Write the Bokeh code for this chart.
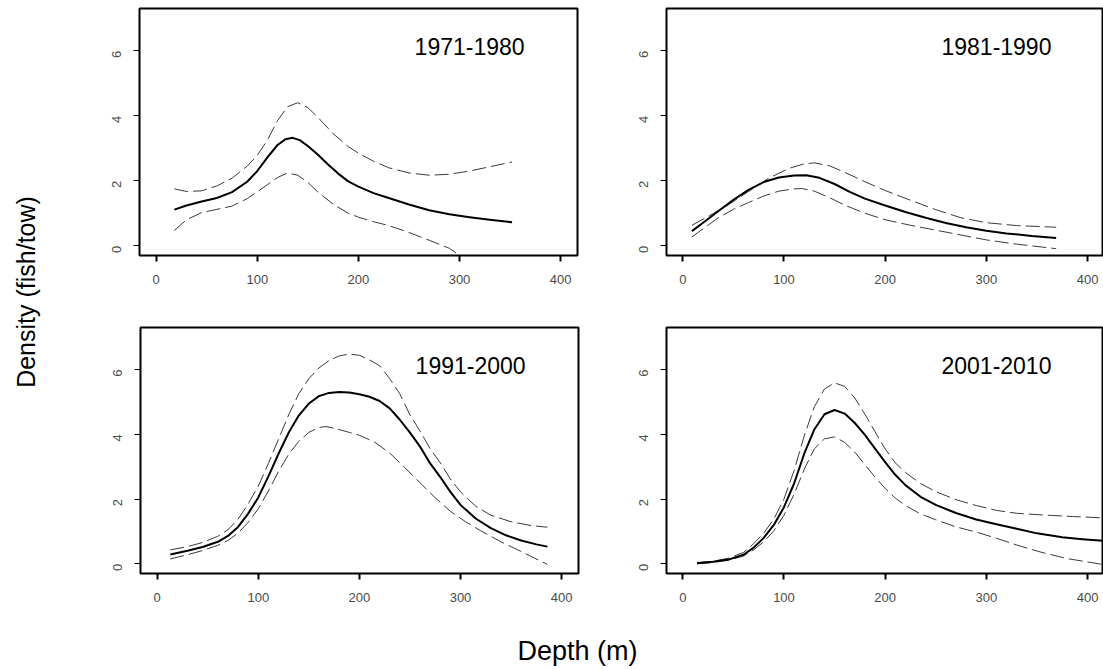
import math
from bokeh.plotting import figure
from bokeh.layouts import row, column
from bokeh.models import Range1d, Label, FixedTicker
from bokeh.embed import file_html
from bokeh.resources import INLINE

FONT = "Liberation Sans"

# ---------------- data (depth in m, density in fish/tow) ----------------
p1_label = "1971-1980"
p1_x_fit = [18, 30, 45, 60, 75, 90, 100, 110, 120, 128, 135, 142, 150, 160, 170, 180, 190, 200, 215, 230, 250, 270, 290, 310, 330, 352]
p1_fit = [1.11, 1.24, 1.36, 1.47, 1.65, 1.97, 2.30, 2.72, 3.10, 3.28, 3.32, 3.25, 3.07, 2.80, 2.50, 2.22, 1.98, 1.82, 1.62, 1.47, 1.27, 1.09, 0.97, 0.88, 0.80, 0.72]
p1_x_up = [18, 30, 45, 60, 75, 90, 100, 110, 120, 130, 140, 150, 160, 175, 190, 200, 215, 230, 250, 270, 290, 310, 330, 352]
p1_up = [1.75, 1.67, 1.69, 1.84, 2.08, 2.45, 2.78, 3.25, 3.85, 4.28, 4.40, 4.25, 3.95, 3.45, 3.05, 2.85, 2.60, 2.40, 2.24, 2.17, 2.20, 2.30, 2.43, 2.58]
p1_x_lo = [18, 30, 45, 60, 75, 90, 100, 110, 120, 130, 140, 150, 160, 175, 190, 200, 215, 230, 250, 270, 290, 300]
p1_lo = [0.47, 0.80, 1.02, 1.12, 1.22, 1.45, 1.66, 1.88, 2.10, 2.24, 2.17, 1.95, 1.65, 1.28, 1.00, 0.88, 0.74, 0.62, 0.41, 0.17, -0.08, -0.30]

p2_label = "1981-1990"
p2_x_fit = [9, 20, 35, 50, 65, 80, 95, 110, 122, 135, 150, 165, 180, 200, 220, 240, 260, 280, 300, 320, 345, 369]
p2_fit = [0.45, 0.71, 1.06, 1.41, 1.72, 1.96, 2.10, 2.16, 2.17, 2.09, 1.90, 1.66, 1.45, 1.24, 1.04, 0.86, 0.70, 0.57, 0.46, 0.38, 0.30, 0.24]
p2_x_up = [9, 25, 45, 65, 85, 105, 120, 130, 145, 160, 180, 200, 225, 250, 275, 300, 330, 369]
p2_up = [0.63, 0.90, 1.26, 1.67, 2.08, 2.38, 2.52, 2.55, 2.46, 2.26, 1.97, 1.70, 1.40, 1.11, 0.86, 0.71, 0.62, 0.57]
p2_x_lo = [9, 20, 35, 50, 65, 80, 95, 110, 118, 130, 145, 160, 180, 200, 225, 250, 275, 300, 330, 369]
p2_lo = [0.27, 0.52, 0.86, 1.12, 1.33, 1.53, 1.68, 1.75, 1.76, 1.68, 1.48, 1.25, 1.00, 0.80, 0.63, 0.48, 0.33, 0.18, 0.05, -0.09]

p3_label = "1991-2000"
p3_x_fit = [13, 30, 45, 60, 70, 80, 90, 100, 110, 120, 130, 140, 150, 160, 170, 180, 190, 200, 210, 220, 230, 240, 250, 260, 270, 280, 290, 300, 315, 330, 345, 360, 375, 386]
p3_fit = [0.29, 0.40, 0.52, 0.68, 0.86, 1.14, 1.55, 2.05, 2.70, 3.40, 4.05, 4.58, 4.95, 5.18, 5.28, 5.31, 5.29, 5.24, 5.16, 5.03, 4.80, 4.45, 4.05, 3.62, 3.10, 2.68, 2.22, 1.82, 1.40, 1.10, 0.88, 0.72, 0.60, 0.53]
p3_x_up = [13, 30, 45, 60, 70, 80, 90, 100, 110, 120, 130, 140, 150, 160, 170, 180, 190, 200, 210, 220, 230, 240, 250, 260, 270, 280, 290, 300, 315, 330, 350, 370, 386]
p3_up = [0.43, 0.53, 0.66, 0.85, 1.05, 1.38, 1.85, 2.40, 3.10, 3.85, 4.60, 5.25, 5.72, 6.05, 6.28, 6.42, 6.48, 6.44, 6.30, 6.12, 5.72, 5.25, 4.60, 4.10, 3.55, 3.12, 2.62, 2.22, 1.78, 1.50, 1.30, 1.18, 1.13]
p3_x_lo = [13, 30, 45, 60, 70, 80, 90, 100, 110, 120, 130, 140, 150, 160, 167, 175, 190, 200, 215, 230, 245, 260, 275, 290, 305, 320, 340, 360, 386]
p3_lo = [0.15, 0.28, 0.41, 0.57, 0.72, 0.95, 1.28, 1.70, 2.25, 2.85, 3.38, 3.78, 4.06, 4.21, 4.24, 4.19, 4.06, 3.97, 3.76, 3.42, 2.97, 2.50, 2.04, 1.62, 1.30, 1.02, 0.68, 0.38, -0.02]

p4_label = "2001-2010"
p4_x_fit = [14, 30, 45, 60, 70, 80, 90, 100, 110, 120, 130, 140, 150, 160, 170, 180, 190, 200, 210, 220, 235, 250, 270, 290, 310, 330, 350, 375, 395, 415]
p4_fit = [0.02, 0.06, 0.13, 0.28, 0.50, 0.80, 1.20, 1.75, 2.48, 3.40, 4.15, 4.62, 4.75, 4.64, 4.35, 3.98, 3.56, 3.14, 2.75, 2.43, 2.07, 1.82, 1.57, 1.37, 1.22, 1.08, 0.94, 0.82, 0.76, 0.71]
p4_x_up = [14, 30, 45, 60, 70, 80, 90, 100, 110, 120, 130, 140, 150, 160, 170, 180, 190, 200, 210, 220, 235, 250, 270, 290, 310, 330, 355, 385, 415]
p4_up = [0.04, 0.08, 0.17, 0.35, 0.62, 0.95, 1.38, 2.00, 2.88, 3.95, 4.85, 5.40, 5.59, 5.48, 5.12, 4.62, 4.08, 3.55, 3.12, 2.82, 2.48, 2.23, 1.98, 1.80, 1.65, 1.56, 1.51, 1.46, 1.42]
p4_x_lo = [14, 30, 45, 60, 70, 80, 90, 100, 110, 120, 130, 140, 150, 160, 170, 180, 190, 200, 210, 220, 235, 250, 270, 290, 310, 330, 355, 380, 415]
p4_lo = [0.00, 0.04, 0.11, 0.24, 0.43, 0.68, 1.02, 1.50, 2.15, 2.92, 3.55, 3.86, 3.92, 3.75, 3.45, 3.06, 2.68, 2.33, 2.03, 1.80, 1.54, 1.36, 1.14, 0.98, 0.79, 0.58, 0.35, 0.16, -0.02]

x_ticks = [0, 100, 200, 300, 400]
y_ticks = [0, 2, 4, 6]
y_title = "Density (fish/tow)"
x_title = "Depth (m)"


def panel(width, height, bl, br, bt, bb, xr, yr, xf, f, xu, u, xl, l, label):
    p = figure(width=width, height=height, output_backend="svg", toolbar_location=None,
               x_range=Range1d(*xr), y_range=Range1d(*yr),
               min_border_left=bl, min_border_right=br, min_border_top=bt, min_border_bottom=bb)
    p.grid.visible = False
    p.background_fill_color = "white"
    p.border_fill_color = "white"
    p.outline_line_color = "black"
    p.outline_line_width = 2
    for ax in (p.xaxis[0], p.yaxis[0]):
        ax.axis_line_color = None
        ax.minor_tick_line_color = None
        ax.major_tick_in = 0
        ax.major_tick_out = 6
        ax.major_tick_line_color = "black"
        ax.major_label_text_font = FONT
        ax.major_label_text_font_size = "13px"
        ax.major_label_text_color = "#4a4a4a"
    p.xaxis[0].ticker = FixedTicker(ticks=x_ticks)
    p.yaxis[0].ticker = FixedTicker(ticks=y_ticks)
    p.xaxis[0].major_tick_line_width = 2
    p.yaxis[0].major_tick_line_width = 1
    p.xaxis[0].major_label_standoff = 13
    p.yaxis[0].major_label_standoff = 17
    p.yaxis[0].major_label_orientation = math.pi / 2
    p.line(xu, u, line_color="#3a3a3a", line_width=1, line_dash="14 5", line_join="round")
    p.line(xl, l, line_color="#3a3a3a", line_width=1, line_dash="14 5", line_join="round")
    p.line(xf, f, line_color="black", line_width=2, line_join="round")
    p.add_layout(Label(x=310, y=6.12, text=label, text_align="center", text_baseline="alphabetic",
                       text_font=FONT, text_font_size="23px", text_color="black"))
    return p


YR = (-0.3, 7.3)
tl = panel(500, 310, 49, 13, 8, 55, (-16.5, 416.7), YR, p1_x_fit, p1_fit, p1_x_up, p1_up, p1_x_lo, p1_lo, p1_label)
tr = panel(513, 310, 76, 1, 8, 55, (-16.1, 414.8), YR, p2_x_fit, p2_fit, p2_x_up, p2_up, p2_x_lo, p2_lo, p2_label)
bl = panel(500, 300, 50, 12, 17, 37, (-16.5, 416.7), YR, p3_x_fit, p3_fit, p3_x_up, p3_up, p3_x_lo, p3_lo, p3_label)
br = panel(513, 300, 76, 1, 17, 37, (-16.1, 414.8), YR, p4_x_fit, p4_fit, p4_x_up, p4_up, p4_x_lo, p4_lo, p4_label)


def blank(width, height):
    p = figure(width=width, height=height, output_backend="svg", toolbar_location=None,
               x_range=Range1d(0, width), y_range=Range1d(0, height),
               min_border=0, min_border_left=0, min_border_right=0, min_border_top=0, min_border_bottom=0)
    p.axis.visible = False
    p.grid.visible = False
    p.outline_line_color = None
    p.border_fill_color = "white"
    p.background_fill_color = "white"
    return p


left = blank(90, 669)
left.add_layout(Label(x=25, y=669 - 291.5, text=y_title, angle=math.pi / 2, text_align="center",
                      text_baseline="middle", text_font=FONT, text_font_size="25px", text_color="black"))
bottom = blank(1013, 59)
bottom.add_layout(Label(x=577 - 90, y=59 - 40, text=x_title, text_align="center",
                        text_baseline="middle", text_font=FONT, text_font_size="27px", text_color="black"))

layout = row(left, column(row(tl, tr), row(bl, br), bottom))

open("out.html", "w").write(file_html(layout, INLINE))
